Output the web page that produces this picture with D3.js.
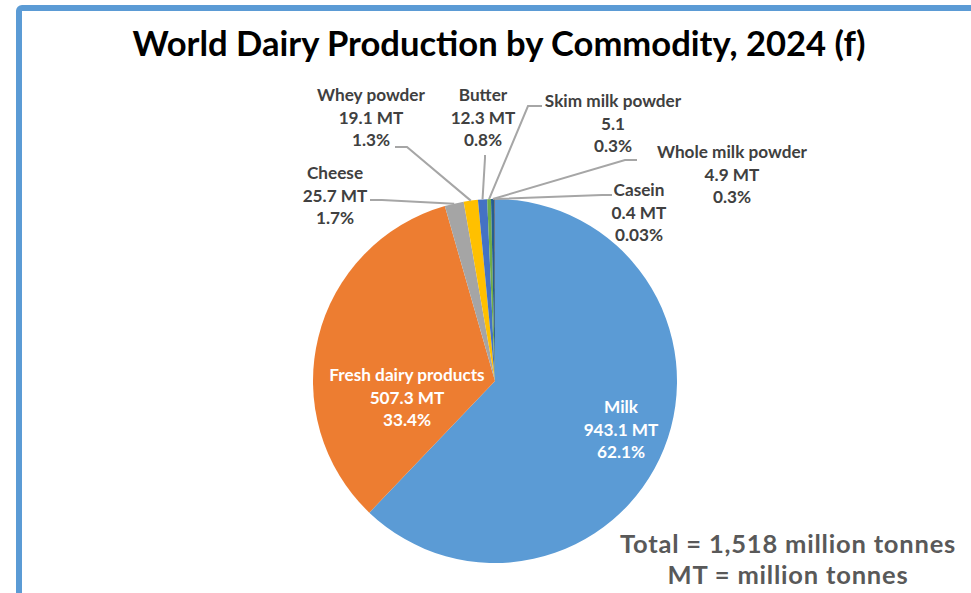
<!DOCTYPE html>
<html>
<head>
<meta charset="utf-8">
<script src="https://cdn.jsdelivr.net/npm/d3@7"></script>
<style>
	body { margin:0; background:#fff; }
	svg text { font-family: Lato, "Open Sans", sans-serif; font-weight:bold; }
</style>
</head>
<body>
<div id="chart"></div>
<script>
// data
var	names	= ["Milk", "Fresh dairy products", "Cheese", "Whey powder", "Butter", "Skim milk powder", "Whole milk powder", "Casein"],
	amounts	= ["943.1 MT", "507.3 MT", "25.7 MT", "19.1 MT", "12.3 MT", "5.1", "4.9 MT", "0.4 MT"],
	values	= [943.1, 507.3, 25.7, 19.1, 12.3, 5.1, 4.9, 0.4],
	shares	= ["62.1%", "33.4%", "1.7%", "1.3%", "0.8%", "0.3%", "0.3%", "0.03%"],
	colors	= ["#5B9BD5", "#ED7D31", "#A5A5A5", "#FFC000", "#4472C4", "#70AD47", "#255E91", "#9E480E"];

var	W = 971, H = 593,
	cx = 495, cy = 381, r = 182,
	lineH = 22.5;

// where each label sits (center x, first baseline), plus the leader stub
var	place	= [
		{x:621, y:413, inside:true},
		{x:407, y:381, inside:true},
		{x:335, y:179, stub:[[370,200],[382,200]]},
		{x:371, y:101, stub:[[395,147],[407,147]]},
		{x:483, y:101, stub:[[485,155],[485,158]]},
		{x:613, y:107, stub:[[542,106],[528,106]]},
		{x:732, y:158, stub:[[637,160],[625,160]]},
		{x:639, y:196, stub:[[612,195],[602,195]]}
	];

var	svg	= d3.select("#chart").append("svg").attr("width", W).attr("height", H);

svg.append("rect").attr("x", 19).attr("y", 8).attr("width", W+20).attr("height", H+20)
	.attr("rx", 3).attr("fill", "none").attr("stroke", "#5B9BD5").attr("stroke-width", 6);

svg.append("text").attr("x", 499).attr("y", 56).attr("text-anchor", "middle")
	.attr("font-size", 34.6).attr("fill", "#000")
	.text("World Dairy Production by Commodity, 2024 (f)");

var	pie	= d3.pie().sort(null).value(function(d) { return d; }),
	arcs	= pie(values),
	arc	= d3.arc().innerRadius(0).outerRadius(r);

var	g	= svg.append("g").attr("transform", "translate(" + cx + "," + cy + ")");
g.selectAll("path.slice").data(arcs).enter().append("path").attr("class", "slice")
	.attr("d", arc)
	.attr("fill", function(d, i) { return colors[i]; });

// leader lines for the small slices
var	line	= d3.line();
svg.selectAll("path.leader").data(arcs.filter(function(d, i) { return !place[i].inside; }))
	.enter().append("path").attr("class", "leader")
	.attr("fill", "none").attr("stroke", "#A6A6A6").attr("stroke-width", 2)
	.attr("d", function(d) {
		var	p = place[d.index],
			a = (d.startAngle + d.endAngle) / 2,
			end = [cx + r * Math.sin(a), cy - r * Math.cos(a)];
		return line(p.stub.concat([end]));
	});

var	labels	= svg.selectAll("text.lbl").data(arcs).enter().append("text").attr("class", "lbl")
	.attr("text-anchor", "middle").attr("font-size", 17.2)
	.attr("fill", function(d, i) { return place[i].inside ? "#fff" : "#404040"; });
labels.each(function(d, i) {
	var	t = d3.select(this), p = place[i];
	[names[i], amounts[i], shares[i]].forEach(function(s, k) {
		t.append("tspan").attr("x", p.x).attr("y", p.y + k * lineH).text(s);
	});
});

svg.append("text").attr("x", 788).attr("y", 553).attr("text-anchor", "middle")
	.attr("font-size", 25.5).attr("letter-spacing", 0.8).attr("fill", "#595959").text("Total = 1,518 million tonnes");
svg.append("text").attr("x", 788).attr("y", 584).attr("text-anchor", "middle")
	.attr("font-size", 25.5).attr("letter-spacing", 0.8).attr("fill", "#595959").text("MT = million tonnes");
</script>
</body>
</html>
